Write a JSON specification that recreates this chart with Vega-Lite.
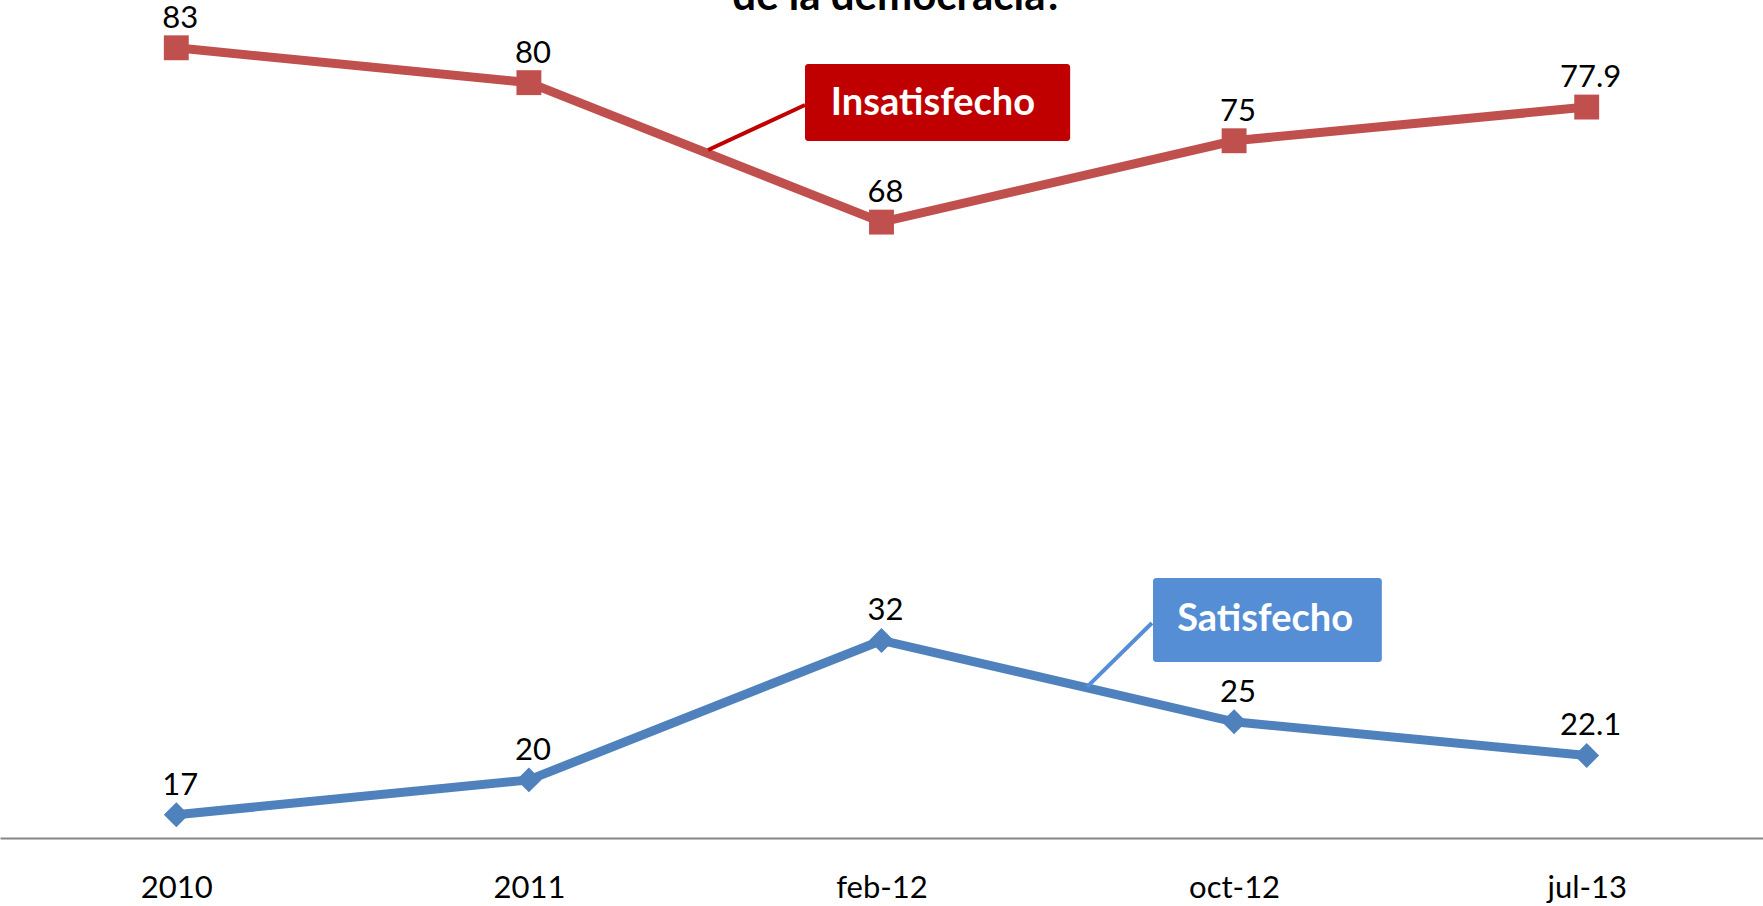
{
  "$schema": "https://vega.github.io/schema/vega-lite/v6.json",
  "width": 1763,
  "height": 826,
  "autosize": "none",
  "padding": {"top": 12, "bottom": 68, "left": 0, "right": 0},
  "background": "white",
  "config": {"view": {"stroke": null}, "font": "Lato"},
  "datasets": {
    "series": [
      {"period": "2010", "serie": "Insatisfecho", "value": 83, "label": "83"},
      {"period": "2011", "serie": "Insatisfecho", "value": 80, "label": "80"},
      {"period": "feb-12", "serie": "Insatisfecho", "value": 68, "label": "68"},
      {"period": "oct-12", "serie": "Insatisfecho", "value": 75, "label": "75"},
      {"period": "jul-13", "serie": "Insatisfecho", "value": 77.9, "label": "77.9"},
      {"period": "2010", "serie": "Satisfecho", "value": 17, "label": "17"},
      {"period": "2011", "serie": "Satisfecho", "value": 20, "label": "20"},
      {"period": "feb-12", "serie": "Satisfecho", "value": 32, "label": "32"},
      {"period": "oct-12", "serie": "Satisfecho", "value": 25, "label": "25"},
      {"period": "jul-13", "serie": "Satisfecho", "value": 22.1, "label": "22.1"}
    ],
    "callouts": [
      {"serie": "Insatisfecho", "bx1": 1.783, "bx2": 2.535, "by1": 74.98, "by2": 81.61, "tx": 2.146, "ty": 77.22, "lx1": 1.508, "ly1": 74.2, "lx2": 1.783, "ly2": 78.08},
      {"serie": "Satisfecho", "bx1": 2.77, "bx2": 3.419, "by1": 30.15, "by2": 37.38, "tx": 3.088, "ty": 32.81, "lx1": 2.583, "ly1": 28.0, "lx2": 2.767, "ly2": 33.5}
    ],
    "heading": [
      {"text": "de la democracia?", "x": 2.047, "y": 86.26}
    ]
  },
  "layer": [
    {
      "data": {"name": "series"},
      "encoding": {
        "x": {"field": "period", "type": "nominal", "sort": ["2010", "2011", "feb-12", "oct-12", "jul-13"],
              "scale": {"type": "point", "padding": 0.5},
              "axis": {"title": null, "ticks": false, "grid": false, "domainColor": "#868686", "domainWidth": 2, "labelAngle": 0, "labelFontSize": 31, "labelFont": "Lato", "labelColor": "black", "labelBaseline": "alphabetic", "labelPadding": 59}},
        "y": {"field": "value", "type": "quantitative", "scale": {"domain": [15, 86.08], "nice": false, "zero": false}, "axis": null},
        "color": {"field": "serie", "type": "nominal", "scale": {"domain": ["Insatisfecho", "Satisfecho"], "range": ["#C0504D", "#4F81BD"]}, "legend": null}
      },
      "layer": [
        {"mark": {"type": "line", "strokeWidth": 9}},
        {"mark": {"type": "point", "filled": true, "opacity": 1, "size": 620},
         "encoding": {"shape": {"field": "serie", "type": "nominal", "scale": {"domain": ["Insatisfecho", "Satisfecho"], "range": ["square", "diamond"]}, "legend": null}}},
        {"mark": {"type": "text", "fontSize": 31, "font": "Lato", "color": "black", "baseline": "alphabetic", "dy": -20, "dx": 4},
         "encoding": {"text": {"field": "label"}, "color": {"value": "black"}}}
      ]
    },
    {
      "data": {"name": "callouts"},
      "encoding": {
        "color": {"field": "serie", "type": "nominal", "scale": {"domain": ["Insatisfecho", "Satisfecho"], "range": ["#C00000", "#558ED5"]}, "legend": null}
      },
      "layer": [
        {"mark": {"type": "rule", "strokeWidth": 4},
         "encoding": {
           "x": {"field": "lx1", "type": "quantitative", "scale": {"domain": [-0.5, 4.5], "nice": false, "zero": false}, "axis": null},
           "x2": {"field": "lx2"},
           "y": {"field": "ly1", "type": "quantitative", "scale": {"domain": [15, 86.08], "nice": false, "zero": false}, "axis": null},
           "y2": {"field": "ly2"}}},
        {"mark": {"type": "rect", "cornerRadius": 3},
         "encoding": {
           "x": {"field": "bx1", "type": "quantitative", "scale": {"domain": [-0.5, 4.5], "nice": false, "zero": false}, "axis": null},
           "x2": {"field": "bx2"},
           "y": {"field": "by1", "type": "quantitative", "scale": {"domain": [15, 86.08], "nice": false, "zero": false}, "axis": null},
           "y2": {"field": "by2"}}},
        {"mark": {"type": "text", "fontSize": 38, "font": "Lato", "fontWeight": "bold", "baseline": "alphabetic", "align": "center"},
         "encoding": {
           "x": {"field": "tx", "type": "quantitative", "scale": {"domain": [-0.5, 4.5], "nice": false, "zero": false}, "axis": null},
           "y": {"field": "ty", "type": "quantitative", "scale": {"domain": [15, 86.08], "nice": false, "zero": false}, "axis": null},
           "text": {"field": "serie"},
           "color": {"value": "white"}}},
        {"data": {"name": "heading"},
         "mark": {"type": "text", "fontSize": 42, "font": "Lato", "fontWeight": "bold", "baseline": "alphabetic", "align": "center", "color": "black", "clip": false},
         "encoding": {
           "x": {"field": "x", "type": "quantitative", "scale": {"domain": [-0.5, 4.5], "nice": false, "zero": false}, "axis": null},
           "y": {"field": "y", "type": "quantitative", "scale": {"domain": [15, 86.08], "nice": false, "zero": false}, "axis": null},
           "text": {"field": "text"},
           "color": {"value": "black"}}}
      ]
    }
  ],
  "resolve": {"scale": {"x": "independent", "color": "independent"}}
}
